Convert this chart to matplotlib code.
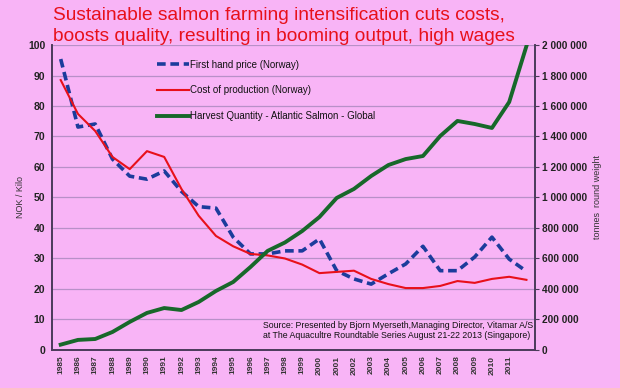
import matplotlib.pyplot as plt

plt.rcParams['font.family'] = ['Liberation Sans', 'DejaVu Sans']

years = list(range(1985, 2013))
tick_years = list(range(1985, 2012))

# NOK per kilo
price = [95.4, 73.1, 74.1, 62.6, 57.0, 56.0, 58.7, 52.0, 47.0, 46.5, 37.0, 31.5,
         31.5, 32.5, 32.5, 36.4, 26.0, 23.3, 21.6, 25.0, 28.2, 34.0, 26.0, 26.0,
         30.5, 37.0, 29.8, 25.8]
cost = [88.5, 77.4, 71.8, 63.3, 59.3, 65.2, 63.3, 52.8, 44.0, 37.4, 34.0, 31.5,
        31.0, 30.0, 28.0, 25.2, 25.6, 26.0, 23.3, 21.6, 20.3, 20.3, 21.0, 22.6,
        22.0, 23.3, 24.0, 23.0]
# tonnes round weight
harvest = [35000, 66000, 72000, 118000, 184000, 243000, 275000, 262000, 315000,
           387000, 446000, 544000, 650000, 705000, 780000, 872000, 997000,
           1056000, 1141000, 1213000, 1252000, 1272000, 1403000, 1502000,
           1482000, 1456000, 1626000, 1993000]

bg = '#f8b4f6'
grid_c = '#b890c8'
spine_c = '#4a3a5a'

fig = plt.figure(figsize=(6.2, 3.88), dpi=100, facecolor=bg)
ax = fig.add_axes([0.084, 0.098, 0.779, 0.786], facecolor=bg)
ax2 = ax.twinx()

l1, = ax.plot(years, price, color='#1c3c9c', lw=2.6, ls=(0, (2.4, 1.3)),
              label='First hand price (Norway)', zorder=3)
l2, = ax.plot(years, cost, color='#e8101a', lw=1.5,
              label='Cost of production (Norway)', zorder=3)
l3, = ax2.plot(years, harvest, color='#17682a', lw=2.8,
               label='Harvest Quantity - Atlantic Salmon - Global', zorder=3)

ax.set_xlim(1984.5, 2012.5)
ax.set_ylim(0, 100)
ax.set_yticks(range(0, 101, 10))
ax2.set_ylim(0, 2000000)
ax2.set_yticks(range(0, 2000001, 200000))
ax2.set_yticklabels(['0'] + ['{:,}'.format(v).replace(',', ' ')
                              for v in range(200000, 2000001, 200000)])

ax.set_xticks(tick_years)
ax.set_xticklabels([str(y) for y in tick_years], rotation=90, fontsize=6,
                   fontweight='bold', color='#333333')
ax.tick_params(axis='x', length=0, pad=4)
ax.tick_params(axis='y', length=0, labelsize=7.5, pad=5, labelcolor='#222222')
for t in ax.get_yticklabels():
    t.set_fontweight('bold')
ax2.tick_params(axis='y', length=3, direction='out', color=spine_c,
                labelsize=7.3, pad=2, labelcolor='#222222')
for t in ax2.get_yticklabels():
    t.set_fontweight('bold')

ax.grid(axis='y', color=grid_c, lw=0.9)
ax.set_axisbelow(True)
for a in (ax, ax2):
    a.spines['top'].set_visible(False)
    for s in ('left', 'bottom', 'right'):
        a.spines[s].set_color(spine_c)
        a.spines[s].set_linewidth(1.2)

ax.set_ylabel('NOK / Kilo', fontsize=6.5, color='#333333', labelpad=2)
ax2.set_ylabel('tonnes  round weight', fontsize=6.5, color='#333333',
               rotation=90, labelpad=4)

ax.legend(handles=[l1, l2, l3], loc='upper left', bbox_to_anchor=(0.2, 0.98),
          frameon=False, fontsize=7, handlelength=3.2, handletextpad=0.2,
          labelspacing=1.6, labelcolor='#111111')

ax.text(0.437, 0.095, 'Source: Presented by Bjorn Myerseth,Managing Director, Vitamar A/S\n'
        'at The Aquacultre Roundtable Series August 21-22 2013 (Singapore)',
        transform=ax.transAxes, fontsize=6.3, color='#111111', va='top',
        ha='left', linespacing=1.2)

fig.text(0.085, 0.982, 'Sustainable salmon farming intensification cuts costs,\n'
         'boosts quality, resulting in booming output, high wages',
         color='#e8101a', fontsize=13.8, va='top', ha='left', linespacing=1.28)

fig.savefig('out.png', dpi=100, facecolor=bg)
